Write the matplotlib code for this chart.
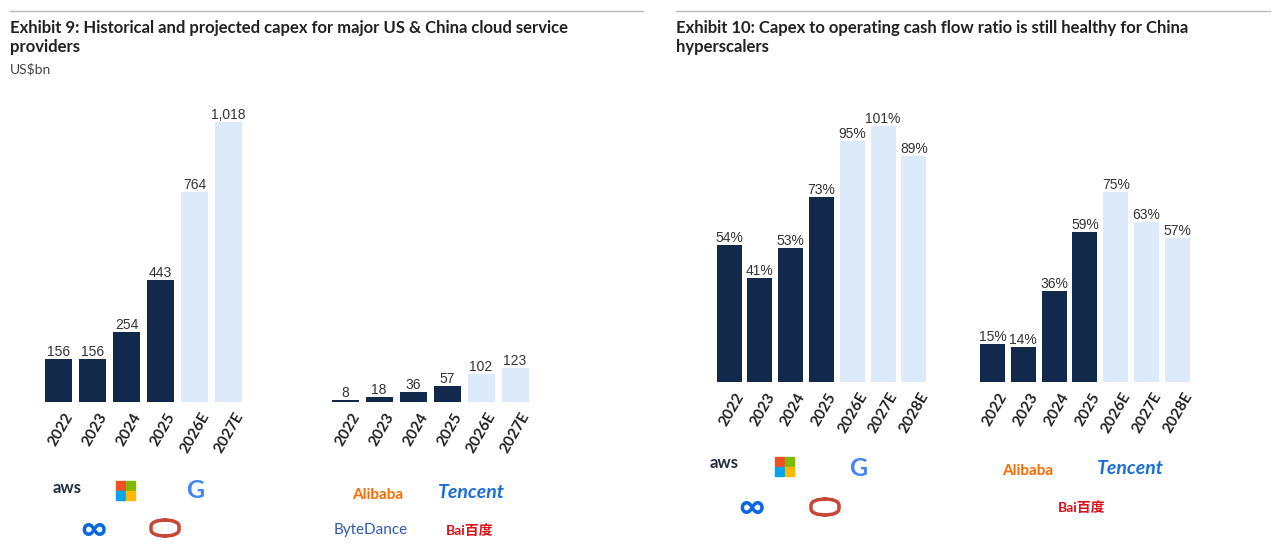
import matplotlib
matplotlib.use("Agg")
import matplotlib.pyplot as plt
from matplotlib.lines import Line2D
from matplotlib.patches import FancyBboxPatch

plt.rcParams['font.family'] = ['Lato', 'Noto Sans CJK SC', 'DejaVu Sans']

years1 = ["2022", "2023", "2024", "2025", "2026E", "2027E"]
us_capex = [156, 156, 254, 443, 764, 1018]
cn_capex = [8, 18, 36, 57, 102, 123]
years2 = ["2022", "2023", "2024", "2025", "2026E", "2027E", "2028E"]
us_ratio = [54, 41, 53, 73, 95, 101, 89]
cn_ratio = [15, 14, 36, 59, 75, 63, 57]

DARK = "#13294B"
LIGHT = "#DCEAFA"
W, H = 1280, 544
fig = plt.figure(figsize=(12.8, 5.44), dpi=100)

def px_axes(x0, y0, x1, y1):
    return fig.add_axes([x0 / W, 1 - y1 / H, (x1 - x0) / W, (y1 - y0) / H])

for xa, xb in [(10, 643), (676, 1270)]:
    fig.add_artist(Line2D([xa / W, xb / W], [1 - 11 / H] * 2, color="#bbbbbb", lw=1))
fig.text(10 / W, 1 - 20 / H, "Exhibit 9: Historical and projected capex for major US & China cloud service\nproviders",
         fontsize=12, fontweight="bold", va="top", color="#222", linespacing=1.25)
fig.text(10 / W, 1 - 63 / H, "US$bn", fontsize=10, va="top", color="#444")
fig.text(676 / W, 1 - 20 / H, "Exhibit 10: Capex to operating cash flow ratio is still healthy for China\nhyperscalers",
         fontsize=12, fontweight="bold", va="top", color="#222", linespacing=1.25)

def draw_group(ax, start, step, width, years, vals, ndark, fmt):
    for i, (y, v) in enumerate(zip(years, vals)):
        x = start + i * step
        ax.bar(x, v, width=width, color=DARK if i < ndark else LIGHT, align="center")
        ax.text(x, v, fmt(v), ha="center", va="bottom", fontsize=10, color="#333",
                family=["Liberation Sans", "DejaVu Sans"], transform=ax.transData)
        ax.text(x, 0, y, rotation=60, ha="right", va="top", fontsize=11, fontweight="bold",
                color="#222", rotation_mode="anchor",
                transform=ax.transData + matplotlib.transforms.ScaledTranslation(4/72, -6/72, fig.dpi_scale_trans))

ax1 = px_axes(0, 100, 640, 402)
ax1.set_xlim(0, 640)
ax1.set_ylim(0, 1018 * 302 / 280)
draw_group(ax1, 58.5, 34, 27, years1, us_capex, 4, lambda v: f"{v:,}")
draw_group(ax1, 345, 34, 27, years1, cn_capex, 4, lambda v: f"{v:,}")
ax1.axis("off")

ax2 = px_axes(640, 100, 1280, 382)
ax2.set_xlim(640, 1280)
ax2.set_ylim(0, 101 * 282 / 256)
draw_group(ax2, 729, 30.8, 25, years2, us_ratio, 4, lambda v: f"{v}%")
draw_group(ax2, 992.5, 30.8, 25, years2, cn_ratio, 4, lambda v: f"{v}%")
ax2.axis("off")

def logo(x, y, s, color, size=13, weight="bold", **kw):
    fig.text(x / W, 1 - y / H, s, color=color, fontsize=size, fontweight=weight,
             ha="center", va="center", **kw)

def oracle(x, y):
    w, h = 28, 16
    p = FancyBboxPatch(((x - w / 2) / W, 1 - (y + h / 2) / H), w / W, h / H,
                       boxstyle="round,pad=0,rounding_size=0.012", transform=fig.transFigure,
                       fill=False, ec="#C74634", lw=2.5)
    fig.add_artist(p)

def windows(x, y):
    cols = ["#F25022", "#7FBA00", "#00A4EF", "#FFB900"]
    s = 9
    for k, c in enumerate(cols):
        dx = (k % 2) * (s + 1) - s
        dy = (k // 2) * (s + 1) - s
        fig.add_artist(plt.Rectangle(((x + dx) / W, 1 - (y + dy + s) / H), s / W, s / H,
                                     transform=fig.transFigure, color=c))

logo(67, 488, "aws", "#232F3E", 12)
windows(125, 490)
logo(195, 491, "G", "#4285F4", 18)
logo(94, 529, "∞", "#0668E1", 26)
oracle(165, 528)
logo(378, 495, "Alibaba", "#FF6A00", 11)
logo(471, 493, "Tencent", "#1A6ED8", 14, style="italic")
logo(371, 530, "ByteDance", "#325AB4", 11, weight="normal")
logo(470, 531, "Bai百度", "#DE0F17", 10)
logo(724, 463, "aws", "#232F3E", 12)
windows(784, 466)
logo(858, 468, "G", "#4285F4", 18)
logo(752, 507, "∞", "#0668E1", 26)
oracle(825, 507)
logo(1028, 471, "Alibaba", "#FF6A00", 11)
logo(1130, 469, "Tencent", "#1A6ED8", 14, style="italic")
logo(1082, 508, "Bai百度", "#DE0F17", 10)

fig.savefig("out.png", dpi=100, facecolor="white")
